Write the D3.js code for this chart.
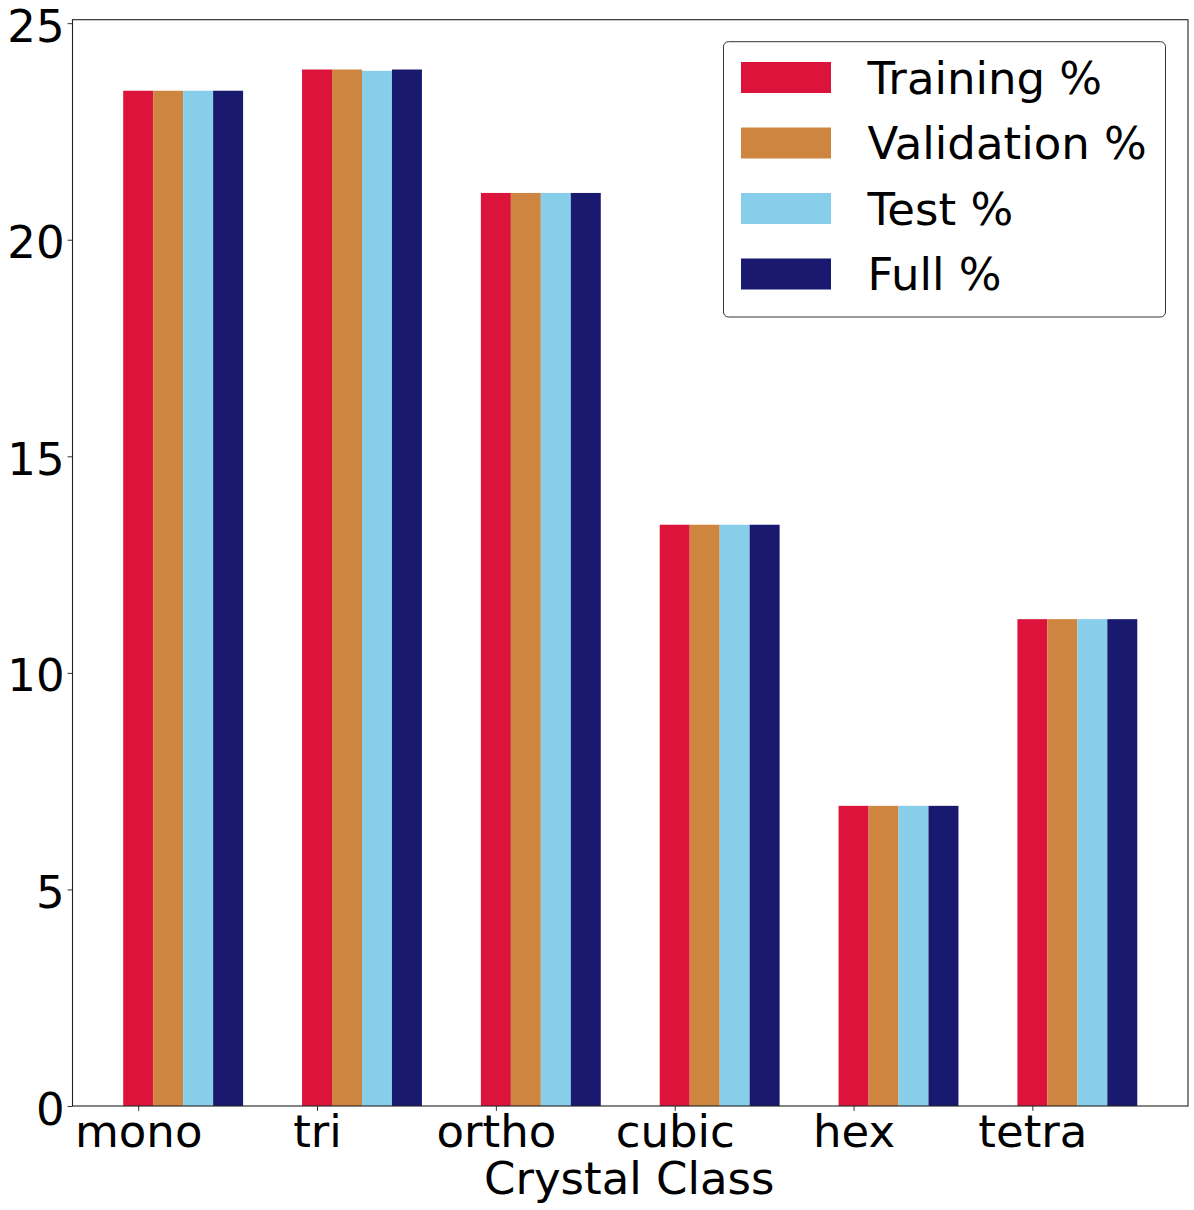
<!DOCTYPE html>
<html>
<head>
<meta charset="utf-8">
<script src="https://cdn.jsdelivr.net/npm/d3@7"></script>
<style>
  body { margin: 0; background: #fff; }
  svg { font-family: "DejaVu Sans", sans-serif; }
</style>
</head>
<body>
<div id="chart"></div>
<script>
// categories and series (percent of samples per crystal class)
var classes = ["mono", "tri", "ortho", "cubic", "hex", "tetra"];
var seriesNames = ["Training %", "Validation %", "Test %", "Full %"];
var seriesColors = ["#DC143C", "#CD853F", "#87CEEB", "#191970"];
var training = [23.44, 23.93, 21.08, 13.42, 6.93, 11.24];
var validation = [23.44, 23.93, 21.08, 13.42, 6.93, 11.24];
var testing = [23.44, 23.90, 21.08, 13.42, 6.93, 11.24];
var full = [23.44, 23.93, 21.08, 13.42, 6.93, 11.24];
var yTicks = [0, 5, 10, 15, 20, 25];

var series = [training, validation, testing, full];

var W = 1194, H = 1210;
// plot area edges (avoid the global "top")
var plotLeft = 72.5, plotRight = 1188, plotTop = 19.7, plotBottom = 1106;
var fontSize = 45;
var barW = 0.1676; // bar width in category units

var svg = d3.select("#chart")
    .append("svg")
    .attr("width", W)
    .attr("height", H);

// x: category index, first bar centered on the tick (5% margins either side)
var x0 = -barW / 2, x1 = classes.length - 1 + 3.5 * barW;
var pad = (x1 - x0) * 0.05;
var x = d3.scaleLinear()
    .domain([x0 - pad, x1 + pad])
    .range([plotLeft, plotRight]);

var y = d3.scaleLinear()
    .domain([0, 25.08])
    .range([plotBottom, plotTop]);

// bars
series.forEach(function(vals, k){
    svg.append("g")
        .selectAll("rect")
        .data(vals)
        .enter()
            .append("rect")
            .attr("x", function(d, i){ return x(i + k * barW - barW / 2); })
            .attr("width", function(){ return x(barW) - x(0); })
            .attr("y", function(d){ return y(d); })
            .attr("height", function(d){ return y(0) - y(d); })
            .attr("fill", seriesColors[k]);
});

// y axis
var yAxis = svg.append("g")
    .attr("transform", "translate(" + plotLeft + ",0)")
    .call(d3.axisLeft(y).tickValues(yTicks).tickSize(4.9).tickPadding(3).tickFormat(d3.format("d")));
yAxis.select(".domain").remove();
yAxis.selectAll("line").attr("stroke", "#333").attr("stroke-width", 1);
yAxis.selectAll("text")
    .attr("font-size", fontSize)
    .attr("font-family", "DejaVu Sans")
    .attr("fill", "#000")
    .attr("dy", "0.4em");

// x axis
var xAxis = svg.append("g")
    .attr("transform", "translate(0," + plotBottom + ")")
    .call(d3.axisBottom(x).tickValues(d3.range(classes.length)).tickSize(4.9).tickPadding(4.2)
        .tickFormat(function(d){ return classes[d]; }));
xAxis.select(".domain").remove();
xAxis.selectAll("line").attr("stroke", "#333").attr("stroke-width", 1);
xAxis.selectAll("text")
    .attr("font-size", fontSize)
    .attr("font-family", "DejaVu Sans")
    .attr("fill", "#000");

// frame
svg.append("rect")
    .attr("x", plotLeft)
    .attr("y", plotTop)
    .attr("width", plotRight - plotLeft)
    .attr("height", plotBottom - plotTop)
    .attr("fill", "none")
    .attr("stroke", "#222")
    .attr("stroke-width", 1.1);

// axis title
svg.append("text")
    .attr("x", (plotLeft + plotRight) / 2 - 1)
    .attr("y", 1194)
    .attr("text-anchor", "middle")
    .attr("font-size", fontSize)
    .text("Crystal Class");

// legend
var legend = svg.append("g");
legend.append("rect")
    .attr("x", 723.5)
    .attr("y", 41.7)
    .attr("width", 442)
    .attr("height", 275.3)
    .attr("rx", 5)
    .attr("fill", "#fff")
    .attr("stroke", "#333")
    .attr("stroke-width", 1);

var rows = legend.selectAll("g.row")
    .data(seriesNames)
    .enter()
        .append("g")
        .attr("class", "row")
        .attr("transform", function(d, i){ return "translate(741," + (77.5 + i * 65.5) + ")"; });
rows.append("rect")
    .attr("x", 0)
    .attr("y", -15.5)
    .attr("width", 90)
    .attr("height", 31)
    .attr("fill", function(d, i){ return seriesColors[i]; });
rows.append("text")
    .attr("x", 126.5)
    .attr("y", 16)
    .attr("font-size", fontSize)
    .text(function(d){ return d; });
</script>
</body>
</html>
